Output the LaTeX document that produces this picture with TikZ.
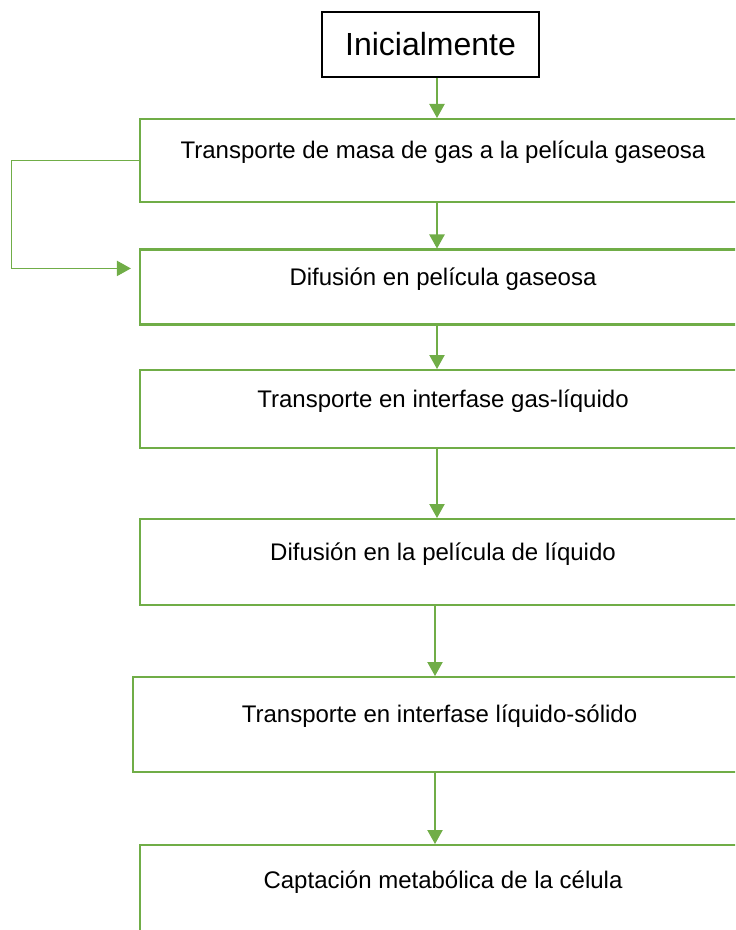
\documentclass[tikz,border=0pt]{standalone}
\usepackage{fontspec}
\setmainfont{Liberation Sans}
\usepackage{tikz}
\usetikzlibrary{arrows.meta}
\definecolor{verde}{HTML}{70AD47}

\begin{document}
\begin{tikzpicture}[x=0.75pt, y=-0.75pt]
    \tikzstyle{inicio} = [draw=black, line width=1.1pt, rectangle, minimum width=162.75pt, minimum height=48.75pt, font=\fontsize{24}{28}\selectfont]
    \tikzstyle{caja} = [draw=verde, line width=1.7pt, rectangle, anchor=north, minimum width=454.5pt, inner xsep=0pt, inner ysep=0pt, font=\fontsize{18}{21}\selectfont]
    \tikzstyle{flujo} = [verde, line width=0.8pt, -{Triangle[length=10.5pt, width=11.5pt]}]

    \useasboundingbox (0,0) rectangle (735,930);
    \clip (0,0) rectangle (735,930);

    \node[inicio] (ini) at (430.5, 44.5) {Inicialmente};
    \node[caja, text height=29.25pt, text depth=33pt] (caja1) at (443, 118) {Transporte de masa de gas a la película gaseosa};
    \node[caja, text height=26.6pt, text depth=29.6pt] (caja2) at (443, 248.5) {Difusión en película gaseosa};
    \node[caja, text height=27.75pt, text depth=30.75pt] (caja3) at (443, 369) {Transporte en interfase gas-líquido};
    \node[caja, text height=31pt, text depth=33.5pt] (caja4) at (443, 518) {Difusión en la película de líquido};
    \node[caja, text height=34.3pt, text depth=37pt, minimum width=459.75pt] (caja5) at (439.5, 676) {Transporte en interfase líquido-sólido};
    \node[caja, text height=32.25pt, text depth=54.75pt] (caja6) at (443, 844) {Captación metabólica de la célula};

    \foreach \from/\to/\x in {ini/caja1/437, caja1/caja2/437, caja2/caja3/437, caja3/caja4/437, caja4/caja5/435, caja5/caja6/435}
    \draw [flujo] (\from.south -| \x,0) -- (\to.north -| \x,0);

    \draw [flujo, shorten >=6pt] (caja1.west) -- ++(-127,0) |- ([yshift=14pt]caja2.west);
\end{tikzpicture}
\end{document}
